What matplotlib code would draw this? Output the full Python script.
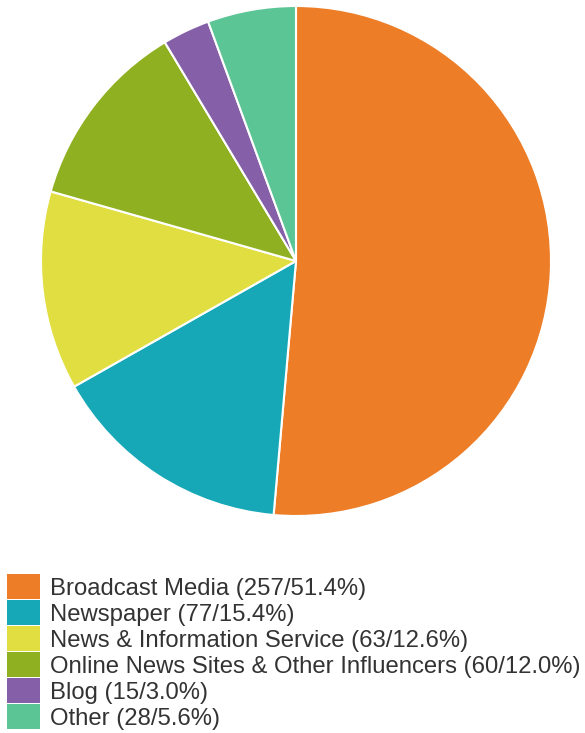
import matplotlib.pyplot as plt
from matplotlib.patches import Rectangle

labels = ["Broadcast Media", "Newspaper", "News & Information Service",
          "Online News Sites & Other Influencers", "Blog", "Other"]
counts = [257, 77, 63, 60, 15, 28]
colors = ["#ED7D27", "#17A8B8", "#E0DE41", "#8FB020", "#8560A8", "#5BC595"]

plt.rcParams['font.family'] = ['Liberation Sans', 'DejaVu Sans']

W, H = 585, 733
fig = plt.figure(figsize=(W / 100, H / 100), dpi=100)

# pie centre and radius in pixels
cx, cy, r = 296, 261, 255
ax = fig.add_axes([(cx - r) / W, 1 - (cy + r) / H, 2 * r / W, 2 * r / H])
wedges, _ = ax.pie(counts, colors=colors, startangle=90, counterclock=False,
                   radius=1, wedgeprops=dict(edgecolor="white", linewidth=1.5))
ax.set_xlim(-1, 1)
ax.set_ylim(-1, 1)
ax.set_aspect("equal")
ax.axis("off")

# legend drawn by hand, one row per slice
total = sum(counts)
row0, pitch = 574, 26
for i, (l, c, col) in enumerate(zip(labels, counts, colors)):
    top = row0 + i * pitch
    fig.patches.append(Rectangle((7 / W, 1 - (top + 25) / H), 33 / W, 25 / H,
                                 transform=fig.transFigure, facecolor=col,
                                 edgecolor="none"))
    fig.text(50 / W, 1 - (top + 21) / H,
             "%s (%d/%.1f%%)" % (l, c, 100.0 * c / total),
             fontsize=17.2, color="#333333", va="baseline", ha="left")

fig.savefig("out.png", dpi=100)
